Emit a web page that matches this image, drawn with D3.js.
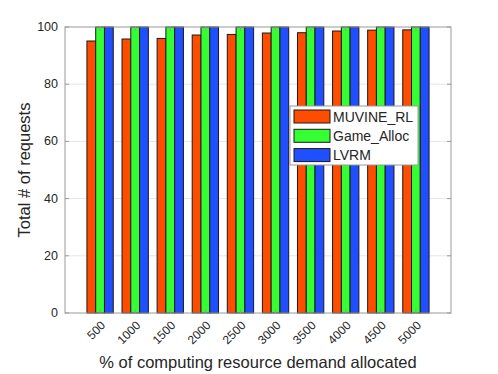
<!DOCTYPE html>
<html>
<head>
<meta charset="utf-8">
<script src="https://cdn.jsdelivr.net/npm/d3@7"></script>
<style>
body { margin: 0; background: #fff; }
text { font-family: "Liberation Sans", Arial, Helvetica, sans-serif; fill: #262626; }
</style>
</head>
<body>
<script>
// data
var categories = ['500','1000','1500','2000','2500','3000','3500','4000','4500','5000'];
var seriesNames = ['MUVINE_RL','Game_Alloc','LVRM'];
var muvine = [95.1, 95.8, 96.0, 97.2, 97.4, 97.9, 98.0, 98.6, 98.9, 99.0];
var gameAlloc = [100, 100, 100, 100, 100, 100, 100, 100, 100, 100];
var lvrm = [100, 100, 100, 100, 100, 100, 100, 100, 100, 100];
var yTicks = [0, 20, 40, 60, 80, 100];
var colors = ['#ff4d00', '#33ff33', '#1f4fff'];

var width = 498, height = 374;
var plotL = 65, plotR = 451, plotT = 27, plotB = 313;

var svg = d3.select("body").append("svg")
    .attr("width", width)
    .attr("height", height);

var x = d3.scaleLinear().domain([0, categories.length + 1]).range([plotL, plotR]);
var y = d3.scaleLinear().domain([0, 100]).range([plotB, plotT]);

var allSeries = [muvine, gameAlloc, lvrm];
var barW = (x(1) - x(0)) * 0.25;

// grid
svg.append("g").selectAll("line")
    .data(yTicks.slice(1, -1))
    .join("line")
    .attr("x1", plotL).attr("x2", plotR)
    .attr("y1", d => y(d)).attr("y2", d => y(d))
    .attr("stroke", "#e6e6e6").attr("stroke-width", 1);

// bars
allSeries.forEach(function(vals, s) {
    svg.append("g").selectAll("rect")
        .data(vals)
        .join("rect")
        .attr("x", (d, i) => x(i + 1) + (s - 1.5) * barW)
        .attr("y", d => y(d))
        .attr("width", barW)
        .attr("height", d => y(0) - y(d))
        .attr("fill", colors[s])
        .attr("stroke", "#1a1a1a")
        .attr("stroke-width", 1);
});

// axes box
var axisCol = "#9a9a9a";
svg.append("rect")
    .attr("x", plotL).attr("y", plotT)
    .attr("width", plotR - plotL).attr("height", plotB - plotT)
    .attr("fill", "none").attr("stroke", axisCol).attr("stroke-width", 1);

// y ticks (inward, both sides)
var yAxis = svg.append("g");
yTicks.forEach(function(t) {
    yAxis.append("line").attr("x1", plotL).attr("x2", plotL + 4)
        .attr("y1", y(t)).attr("y2", y(t)).attr("stroke", axisCol);
    yAxis.append("line").attr("x1", plotR).attr("x2", plotR - 4)
        .attr("y1", y(t)).attr("y2", y(t)).attr("stroke", axisCol);
    yAxis.append("text")
        .attr("x", plotL - 7).attr("y", y(t) + 4)
        .attr("text-anchor", "end")
        .style("font-size", "12.5px")
        .text(t);
});

// x ticks
var xAxis = svg.append("g");
categories.forEach(function(c, i) {
    var cx = x(i + 1);
    xAxis.append("line").attr("x1", cx).attr("x2", cx)
        .attr("y1", plotB).attr("y2", plotB - 4).attr("stroke", axisCol);
    xAxis.append("line").attr("x1", cx).attr("x2", cx)
        .attr("y1", plotT).attr("y2", plotT + 4).attr("stroke", axisCol);
    xAxis.append("text")
        .attr("transform", "translate(" + (cx + 6) + "," + (plotB + 13) + ") rotate(-45)")
        .attr("text-anchor", "end")
        .style("font-size", "12px")
        .text(c);
});

// axis labels
svg.append("text")
    .attr("x", (plotL + plotR) / 2).attr("y", 368)
    .attr("text-anchor", "middle")
    .style("font-size", "16.5px")
    .text("% of computing resource demand allocated");

svg.append("text")
    .attr("transform", "translate(30," + ((plotT + plotB) / 2) + ") rotate(-90)")
    .attr("text-anchor", "middle")
    .style("font-size", "16.5px")
    .text("Total # of requests");

// legend
var lg = svg.append("g").attr("transform", "translate(290,106)");
lg.append("rect")
    .attr("width", 128).attr("height", 59)
    .attr("fill", "#fff").attr("stroke", "#9a9a9a");
seriesNames.forEach(function(n, i) {
    lg.append("rect")
        .attr("x", 4).attr("y", 4 + i * 19.3)
        .attr("width", 36).attr("height", 13)
        .attr("fill", colors[i]).attr("stroke", "#1a1a1a");
    lg.append("text")
        .attr("x", 43).attr("y", 15.5 + i * 19.3)
        .style("font-size", "14px")
        .text(n);
});
</script>
</body>
</html>
